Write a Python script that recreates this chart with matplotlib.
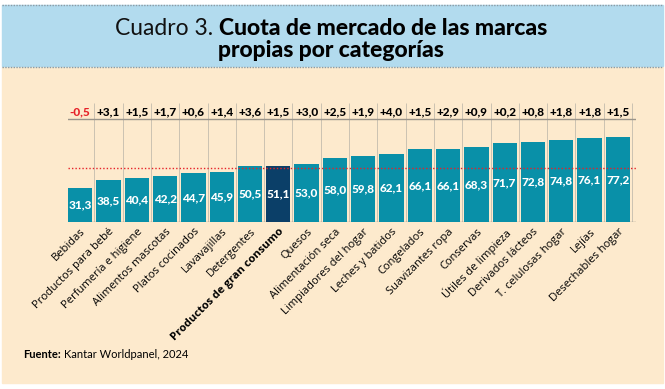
import matplotlib
matplotlib.use("Agg")
import matplotlib.pyplot as plt
from matplotlib.patches import Rectangle
from matplotlib.lines import Line2D

categories = ["Bebidas", "Productos para bebé", "Perfumería e higiene", "Alimentos mascotas",
              "Platos cocinados", "Lavavajillas", "Detergentes", "Productos de gran consumo",
              "Quesos", "Alimentación seca", "Limpiadores del hogar", "Leches y batidos",
              "Congelados", "Suavizantes ropa", "Conservas", "Útiles de limpieza",
              "Derivados lácteos", "T. celulosas hogar", "Lejías", "Desechables hogar"]
shares = [31.3, 38.5, 40.4, 42.2, 44.7, 45.9, 50.5, 51.1, 53.0, 58.0,
          59.8, 62.1, 66.1, 66.1, 68.3, 71.7, 72.8, 74.8, 76.1, 77.2]
changes = [-0.5, 3.1, 1.5, 1.7, 0.6, 1.4, 3.6, 1.5, 3.0, 2.5,
           1.9, 4.0, 1.5, 2.9, 0.9, 0.2, 0.8, 1.8, 1.8, 1.5]
highlight = "Productos de gran consumo"
ref_line = 49

W, H = 665, 389
teal = "#0990a8"
navy = "#0b3f68"
cream = "#fdeacd"
sky = "#b2dbee"
red = "#e62229"

fig = plt.figure(figsize=(W / 100, H / 100), dpi=100)
fig.patch.set_facecolor("white")

# background panels
fig.patches.append(Rectangle((2 / W, (H - 383) / H), 661 / W, (383 - 67) / H,
                             transform=fig.transFigure, color=cream, zorder=-2))
fig.patches.append(Rectangle((2 / W, (H - 66) / H), 661 / W, 61 / H,
                             transform=fig.transFigure, color=sky, zorder=-2))
for yy in (4.5, 66.5):
    fig.add_artist(Line2D([2 / W, 663 / W], [(H - yy) / H] * 2, transform=fig.transFigure,
                          color="#8a9aa4", lw=1.0, ls=(0, (1, 1)), zorder=-1))

# title
r = fig.canvas.get_renderer()
t1 = fig.text(0, (H - 35) / H, "Cuadro 3. ", fontsize=16.5, family="Lato",
              va="baseline", ha="left", color="#111111")
t2 = fig.text(0, (H - 35) / H, "Cuota de mercado de las marcas", fontsize=16.5, family="Lato",
              fontweight="black", va="baseline", ha="left", color="black")
w1 = t1.get_window_extent(r).width
w2 = t2.get_window_extent(r).width
x0 = 331 - (w1 + w2) / 2
t1.set_x(x0 / W)
t2.set_x((x0 + w1) / W)
fig.text(331 / W, (H - 57) / H, "propias por categorías", fontsize=16.5, family="Lato",
         fontweight="black", va="baseline", ha="center", color="black")

# source
f1 = fig.text(23 / W, (H - 355) / H, "Fuente:", fontsize=8, family="Lato", fontweight="bold",
              va="center", ha="left")
fw = f1.get_window_extent(r).width
fig.text((23 + fw + 3) / W, (H - 355) / H, "Kantar Worldpanel, 2024", fontsize=8,
         family="Lato", va="center", ha="left")

# chart
ax = fig.add_axes([68 / W, (H - 222) / H, 568 / W, 121 / H])
ax.set_zorder(2)
ax.set_facecolor("none")
ax.set_xlim(-0.43, 19.64)
ax.set_ylim(0, 110)
for s in ax.spines.values():
    s.set_visible(False)

x = list(range(len(categories)))
colors = [navy if c == highlight else teal for c in categories]
ax.bar(x, shares, width=0.86, color=colors, zorder=2)

for i in x:
    ax.vlines(i + 0.5, 0, 108.5, color="#cbc2b2", lw=0.7, zorder=1)
ax.axhline(93.4, color="#9a948a", lw=1.0, zorder=1)
ax.axhline(0, color="#9a948a", lw=1.0, zorder=1)
ax.axhline(ref_line, color=red, lw=1.0, ls=(0, (1, 1.5)), zorder=3)

for i, (v, c) in enumerate(zip(shares, changes)):
    ax.text(i, v / 2, f"{v:.1f}".replace(".", ","), color="white", fontsize=8.5,
            family="Lato", fontweight="black", ha="center", va="center", zorder=4)
    lab = f"{c:+.1f}".replace(".", ",")
    ax.text(i, 100.3, lab, color=red if c < 0 else "black", fontsize=8.5,
            family="Lato", fontweight="black", ha="center", va="center")

ax.set_yticks([])
ax.set_xticks(x)
ax.set_xticklabels(categories, rotation=45, ha="right", rotation_mode="anchor",
                   fontsize=8, family="Open Sans")
ax.tick_params(axis="x", length=0, pad=3)
for tl in ax.get_xticklabels():
    if tl.get_text() == highlight:
        tl.set_fontweight("bold")

fig.savefig("out.png", dpi=100, facecolor="white")
